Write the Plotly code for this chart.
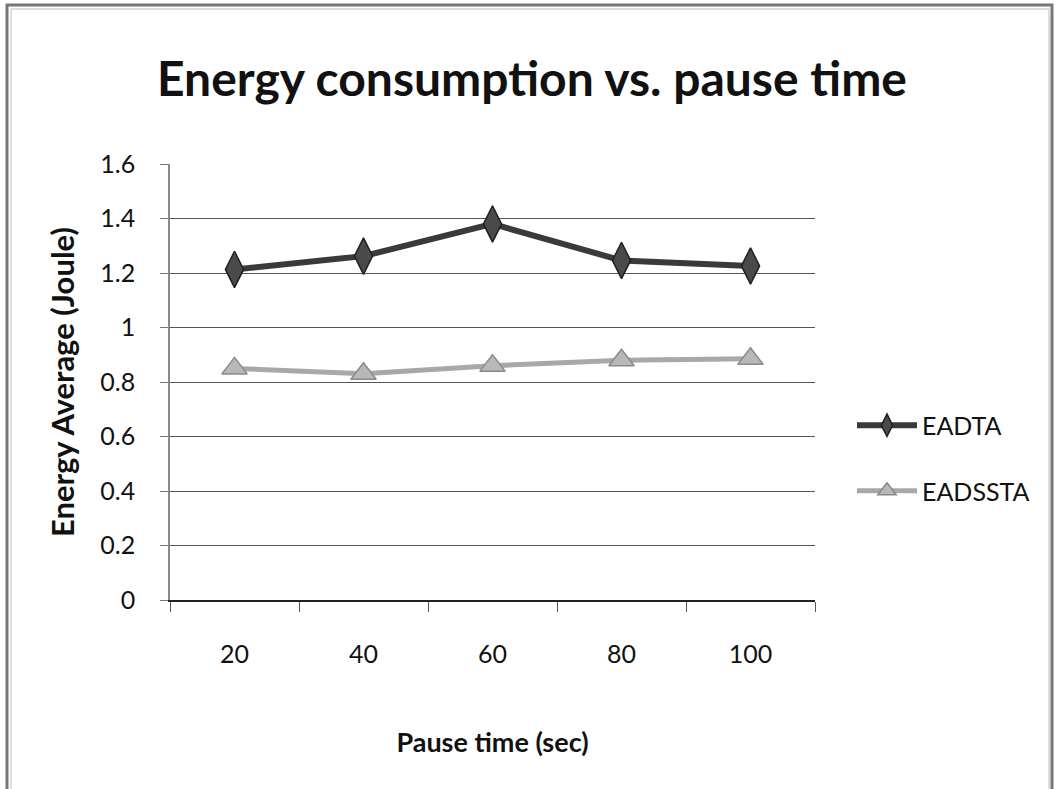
import plotly.graph_objects as go

pause_time = ["20", "40", "60", "80", "100"]
eadta = [1.213, 1.262, 1.380, 1.246, 1.226]
eadssta = [0.850, 0.830, 0.860, 0.880, 0.885]
y_ticks = [0, 0.2, 0.4, 0.6, 0.8, 1.0, 1.2, 1.4, 1.6]
y_tick_labels = ["0", "0.2", "0.4", "0.6", "0.8", "1", "1.2", "1.4", "1.6"]

FONT = "Lato, 'Open Sans', sans-serif"

fig = go.Figure()
fig.add_trace(go.Scatter(
    x=pause_time, y=eadta, name="EADTA", mode="lines+markers",
    legendgroup="a",
    line=dict(color="#3a3a3a", width=6),
    marker=dict(symbol="diamond-tall", size=26, color="#4a4a4a",
                line=dict(color="#202020", width=1.5)),
))
fig.add_trace(go.Scatter(
    x=pause_time, y=eadssta, name="EADSSTA", mode="lines+markers",
    legendgroup="b",
    line=dict(color="#a8a8a8", width=5),
    marker=dict(symbol="triangle-up", size=22, color="#b8b8b8",
                line=dict(color="#8a8a8a", width=1.5)),
))

L, R, T, B = 170, 241, 164, 189
W, H = 1056, 789
pw, ph = W - L - R, H - T - B

def px(x):
    return (x - L) / pw

def py(y):
    return (H - B - y) / ph

fig.update_layout(
    width=W, height=H,
    margin=dict(l=L, r=R, t=T, b=B, autoexpand=False),
    paper_bgcolor="white", plot_bgcolor="white",
    font=dict(family=FONT, color="#111111"),
    title=dict(text="<b>Energy consumption vs. pause time</b>",
               font=dict(size=48, family=FONT, color="#111111"),
               x=532 / W, xanchor="center", y=1 - 79 / H, yanchor="middle"),
    showlegend=True,
    legend=dict(x=px(852), y=py(458), xanchor="left", yanchor="middle",
                font=dict(size=25, family=FONT), itemwidth=60,
                tracegroupgap=30, bgcolor="rgba(0,0,0,0)"),
    xaxis=dict(
        type="category", range=[-0.5, 4.5], tickson="boundaries",
        ticks="outside", ticklen=10, tickcolor="#555555",
        ticklabelstandoff=31,
        showline=True, linecolor="#222222", linewidth=1.5,
        showgrid=False, tickfont=dict(size=25, family=FONT),
        title=dict(text="<b>Pause time (sec)</b>", font=dict(size=27, family=FONT),
                   standoff=66),
    ),
    yaxis=dict(
        range=[0, 1.6], tickvals=y_ticks, ticktext=y_tick_labels,
        ticks="outside", ticklen=8, tickcolor="#777777",
        ticklabelstandoff=20,
        showline=True, linecolor="#888888", linewidth=1.5,
        showgrid=True, gridcolor="#555555", gridwidth=1,
        zeroline=False, tickfont=dict(size=25, family=FONT),
        title=dict(text="<b>Energy Average (Joule)</b>", font=dict(size=31, family=FONT),
                   standoff=16),
    ),
)

# outer frame of the original image
fig.add_shape(type="rect", xref="paper", yref="paper",
              x0=px(7), x1=px(1052), y0=py(800), y1=py(5),
              line=dict(color="#777777", width=3), layer="below")
fig.add_shape(type="rect", xref="paper", yref="paper",
              x0=px(11), x1=px(1049), y0=py(800), y1=py(9),
              line=dict(color="#bbbbbb", width=1), layer="below")

fig.write_html("out.html")
